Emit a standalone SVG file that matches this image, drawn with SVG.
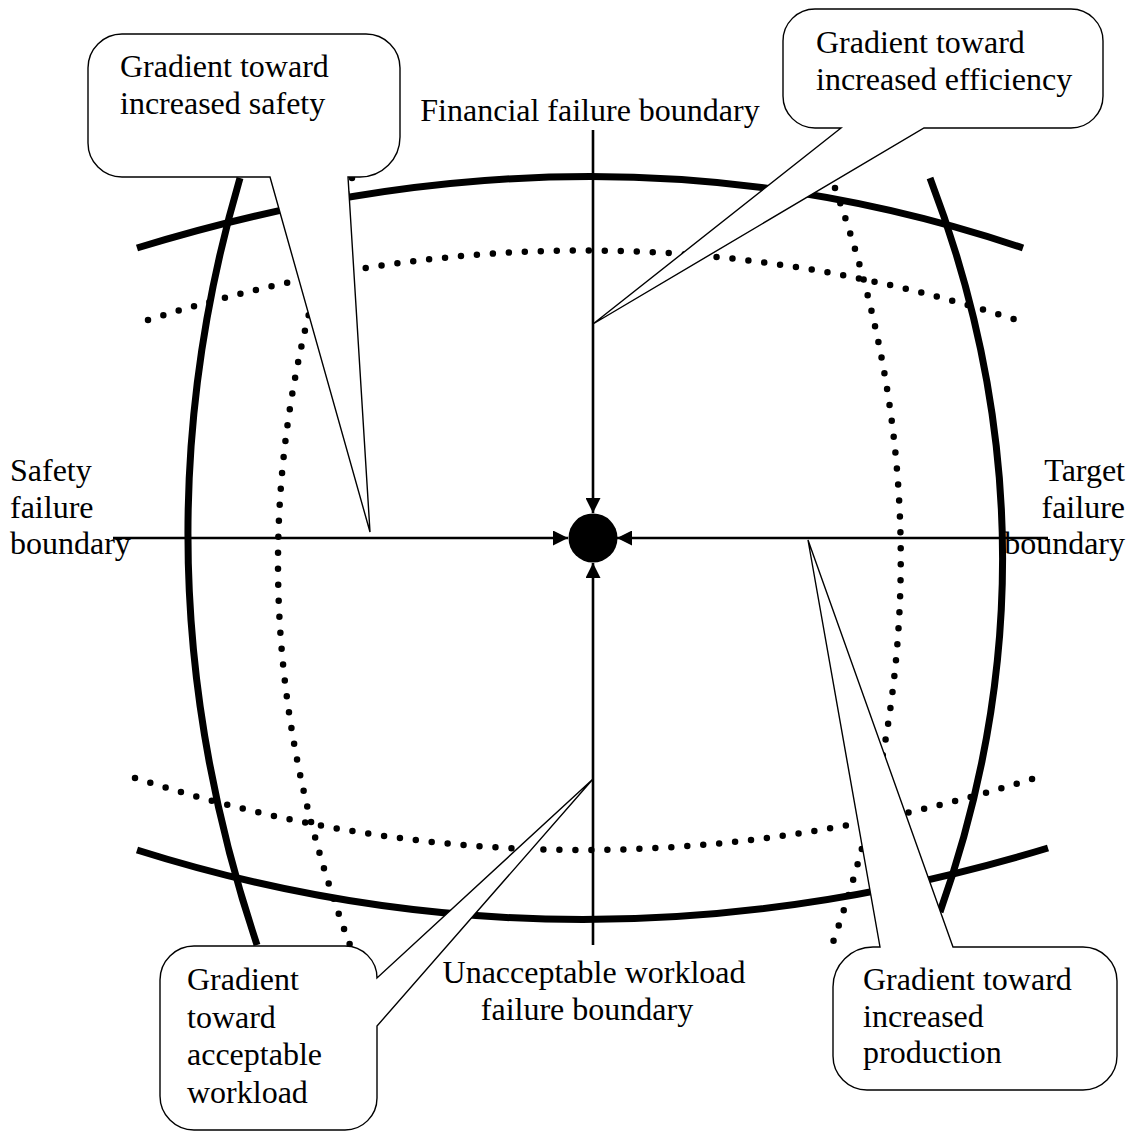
<svg xmlns="http://www.w3.org/2000/svg" width="1140" height="1135" viewBox="0 0 1140 1135">
  <style>
    .bound { fill: none; stroke: #000; stroke-width: 7; }
    .dots { fill: none; stroke: #000; stroke-width: 6.5; stroke-dasharray: 0 16; stroke-linecap: round; }
    .axis { fill: none; stroke: #000; stroke-width: 2.6; marker-end: url(#arrow); }
    .callout { fill: #fff; stroke: #000; stroke-width: 1.4; stroke-linejoin: miter; }
    text { font-family: "Liberation Serif", "Times New Roman", serif; font-size: 32px; fill: #000; }
    .mid { text-anchor: middle; }
    .end { text-anchor: end; }
  </style>
  <defs>
    <marker id="arrow" viewBox="0 0 16 16" refX="16" refY="8" markerUnits="userSpaceOnUse" markerWidth="16" markerHeight="15" orient="auto">
      <path d="M0,0 L16,8 L0,16 Z" fill="#000"/>
    </marker>
  </defs>
  <rect width="1140" height="1135" fill="#fff"/>

  <!-- failure boundaries (solid) and gradient contours (dotted) -->
  <g id="boundaries">
    <path class="bound" d="M137,248 Q600,105 1023,248"/>
    <path class="bound" d="M137,850 Q580,990 1048,848"/>
    <path class="bound" d="M240,178 Q128,560 257,945"/>
    <path class="bound" d="M930,178 Q1070,545 940,912"/>
    <path class="dots" d="M148,320 Q590,180 1023,322"/>
    <path class="dots" d="M135,778 Q580,922 1035,778"/>
    <path class="dots" d="M352,178 Q205,560 350,945"/>
    <path class="dots" d="M835,188 Q968,560 832,945"/>
  </g>

  <!-- pressure arrows converging on the operating point -->
  <g id="connectors">
    <path class="axis" d="M593,130 V513"/>
    <path class="axis" d="M593,945 V563"/>
    <path class="axis" d="M113,538 H568"/>
    <path class="axis" d="M1048,538 H617"/>
  </g>

  <g id="operating-point">
    <circle cx="593" cy="538" r="24.5" fill="#000"/>
  </g>

  <g id="label-financial">
    <text class="mid" x="590" y="121">Financial failure boundary</text>
  </g>
  <g id="label-safety">
    <text x="10" y="481">Safety</text>
    <text x="10" y="518">failure</text>
    <text x="10" y="554">boundary</text>
  </g>
  <g id="label-target">
    <text class="end" x="1125" y="481">Target</text>
    <text class="end" x="1125" y="518">failure</text>
    <text class="end" x="1125" y="554">boundary</text>
  </g>
  <g id="label-workload">
    <text class="mid" x="594" y="983">Unacceptable workload</text>
    <text class="mid" x="587" y="1020">failure boundary</text>
  </g>

  <!-- callouts -->
  <g id="callout-safety">
    <path class="callout" d="M122,34 H366 A34,34 0 0 1 400,68 V137 A40,40 0 0 1 360,177 H348 L370,532 L270,177 H122 A34,34 0 0 1 88,143 V68 A34,34 0 0 1 122,34 Z"/>
    <text x="120" y="77">Gradient toward</text>
    <text x="120" y="114">increased safety</text>
  </g>
  <g id="callout-efficiency">
    <path class="callout" d="M815,9 H1071 A32,32 0 0 1 1103,41 V96 A32,32 0 0 1 1071,128 H924 L593,324 L841,128 H815 A32,32 0 0 1 783,96 V41 A32,32 0 0 1 815,9 Z"/>
    <text x="816" y="53">Gradient toward</text>
    <text x="816" y="90">increased efficiency</text>
  </g>
  <g id="callout-workload">
    <path class="callout" d="M194,946 H345 A32,32 0 0 1 377,978 L593,779 L377,1026 V1098 A32,32 0 0 1 345,1130 H194 A34,34 0 0 1 160,1096 V980 A34,34 0 0 1 194,946 Z"/>
    <text x="187" y="990">Gradient</text>
    <text x="187" y="1028">toward</text>
    <text x="187" y="1065">acceptable</text>
    <text x="187" y="1103">workload</text>
  </g>
  <g id="callout-production">
    <path class="callout" d="M873,947 H880 L808,540 L953,947 H1083 A34,34 0 0 1 1117,981 V1056 A34,34 0 0 1 1083,1090 H867 A34,34 0 0 1 833,1056 V987 A40,40 0 0 1 873,947 Z"/>
    <text x="863" y="990">Gradient toward</text>
    <text x="863" y="1027">increased</text>
    <text x="863" y="1063">production</text>
  </g>
</svg>
